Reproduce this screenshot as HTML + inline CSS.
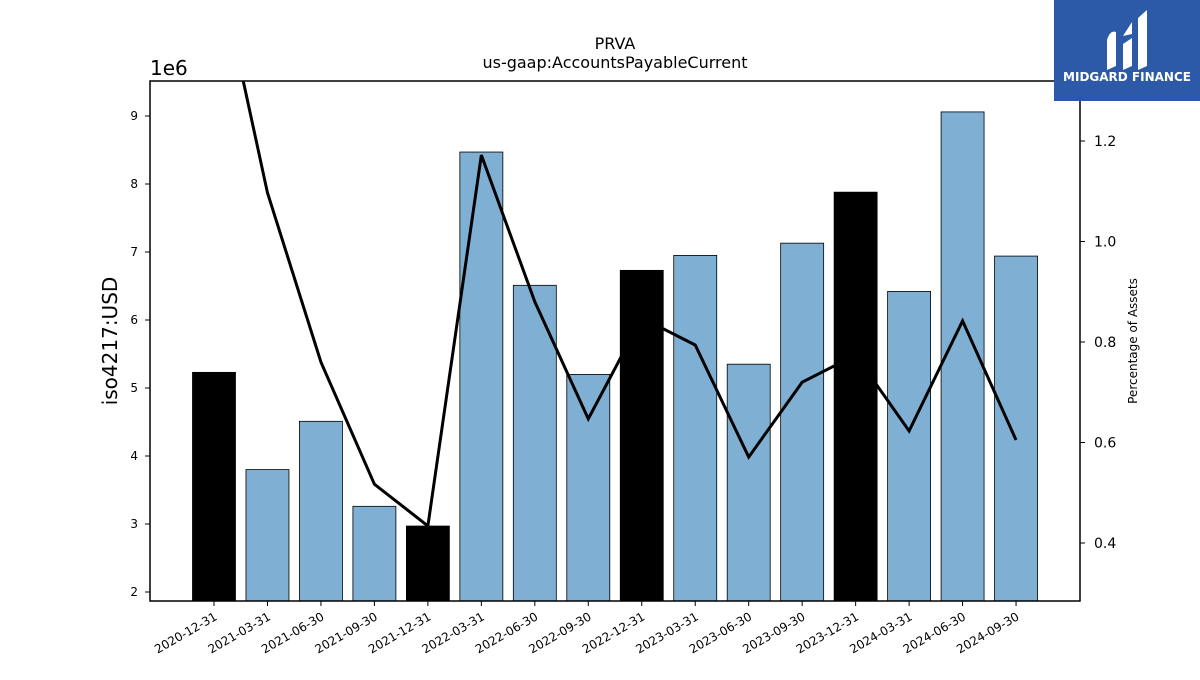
<!DOCTYPE html>
<html><head><meta charset="utf-8"><style>
body{margin:0;background:#fff;font-family:"Liberation Sans","DejaVu Sans",sans-serif}
svg text{font-family:"DejaVu Sans","Liberation Sans",sans-serif}
</style></head><body>
<svg id="c" width="1200" height="675" xmlns="http://www.w3.org/2000/svg">
<rect width="1200" height="675" fill="#fff"/>
<text x="615" y="49" font-size="16" text-anchor="middle">PRVA</text>
<text x="615" y="68" font-size="16" text-anchor="middle">us-gaap:AccountsPayableCurrent</text>
<text x="150" y="75" font-size="20">1e6</text>
<text transform="translate(117,341) rotate(-90)" font-size="20" text-anchor="middle">iso4217:USD</text>
<text transform="translate(1137,341) rotate(-90)" font-size="12" text-anchor="middle">Percentage of Assets</text>
<g id="bars"></g><g id="line"></g><g id="axes"></g>
<rect x="150" y="81" width="930" height="520" fill="none" stroke="#000" stroke-width="1.5"/>
<g>
<rect x="1054" y="0" width="146" height="101" fill="#2c5aa8"/>
<path d="M1107 70 L1107 40 Q1110 30 1116 32 L1116 66 Z M1123 70 L1123 44 L1132 38 L1132 66 Z M1138 70 L1138 18 L1147 10 L1147 66 Z M1123 36 L1132 22 L1132 34 Z" fill="#fff"/>
<text x="1127" y="81" font-size="12" font-weight="bold" fill="#fff" text-anchor="middle">MIDGARD FINANCE</text>
</g>
</svg>
<script>
const categories=["2020-12-31","2021-03-31","2021-06-30","2021-09-30","2021-12-31","2022-03-31","2022-06-30","2022-09-30","2022-12-31","2023-03-31","2023-06-30","2023-09-30","2023-12-31","2024-03-31","2024-06-30","2024-09-30"];
const values=[5.23,3.80,4.51,3.26,2.97,8.47,6.51,5.20,6.73,6.95,5.35,7.13,7.88,6.42,9.06,6.94];
const pct=[1.588,1.097,0.760,0.517,0.434,1.172,0.880,0.647,0.848,0.794,0.571,0.720,0.774,0.623,0.842,0.605];
const leftTicks=[2,3,4,5,6,7,8,9];
const rightTicks=[0.4,0.6,0.8,1.0,1.2];
const NS="http://www.w3.org/2000/svg";
const X0=150,X1=1080,Y0=81,Y1=601;
const xc=i=>214+i*53.47;
const yL=v=>592-(v-2)*68;
const yR=p=>543-(p-0.4)*502.5;
function mk(t,a,p){const e=document.createElementNS(NS,t);for(const k in a)e.setAttribute(k,a[k]);p.appendChild(e);return e;}
const bars=document.getElementById('bars'),line=document.getElementById('line'),axes=document.getElementById('axes');
values.forEach((v,i)=>{
 const r=mk('rect',{x:xc(i)-21.5,y:yL(v),width:43,height:Y1-yL(v),fill:categories[i].endsWith('12-31')?'#000':'#7fb0d3',stroke:'#000','stroke-width':0.8},bars);
 
 
});
const cp=mk('clipPath',{id:'cl'},line);mk('rect',{x:X0,y:Y0,width:X1-X0,height:Y1-Y0},cp);
const pl=mk('polyline',{points:pct.map((p,i)=>xc(i)+','+yR(p)).join(' '),fill:'none',stroke:'#000','stroke-width':3,'clip-path':'url(#cl)'},line);


leftTicks.forEach(t=>{
 mk('line',{x1:X0-5,x2:X0,y1:yL(t),y2:yL(t),stroke:'#000'},axes);
 const e=mk('text',{x:X0-12,y:yL(t)+4,'font-size':12,'text-anchor':'end'},axes);e.textContent=t;
 
 
});
rightTicks.forEach(t=>{
 mk('line',{x1:X1,x2:X1+5,y1:yR(t),y2:yR(t),stroke:'#000'},axes);
 const e=mk('text',{x:X1+14,y:yR(t)+5,'font-size':14},axes);e.textContent=t.toFixed(1);
 
 
});
categories.forEach((c,i)=>{
 mk('line',{x1:xc(i),x2:xc(i),y1:Y1,y2:Y1+5,stroke:'#000'},axes);
 const e=mk('text',{transform:`translate(${xc(i)+4},${Y1+18}) rotate(-30)`,'font-size':12,'text-anchor':'end'},axes);e.textContent=c;
 
 
});
</script>
</body></html>
